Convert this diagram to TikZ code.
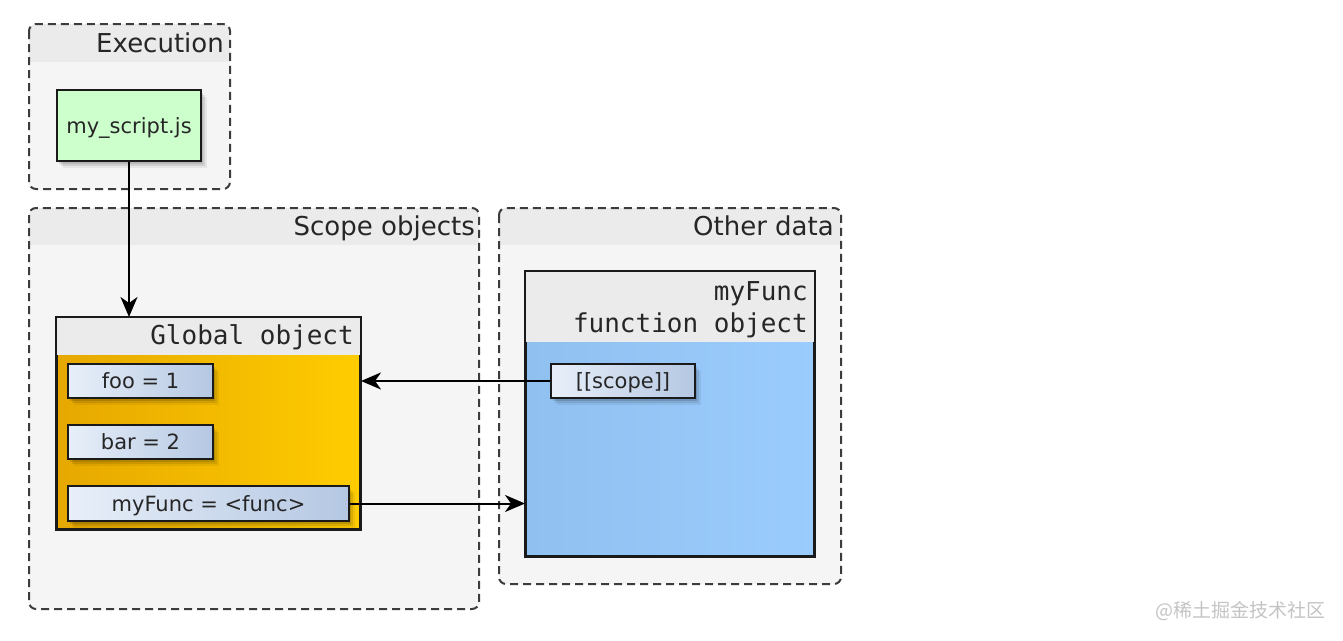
\documentclass[tikz,border=0pt]{standalone}
\usepackage{fontspec}
\setmainfont{DejaVu Sans}
\newfontfamily\monof{DejaVu Sans Mono}
\newfontfamily\cjk{Noto Sans CJK SC}
\usetikzlibrary{shadows,arrows.meta}
\definecolor{contbody}{HTML}{F5F5F5}
\definecolor{conthead}{HTML}{EBEBEB}
\definecolor{bordc}{HTML}{1A1A1A}
\definecolor{greenbox}{HTML}{CCFFCC}
\definecolor{orgL}{HTML}{E6A800}
\definecolor{orgR}{HTML}{FFCC00}
\definecolor{bluL}{HTML}{90C0F0}
\definecolor{bluM}{HTML}{80B4E7}
\definecolor{bluR}{HTML}{9ACCFD}
\definecolor{itemL}{HTML}{E8EFF9}
\definecolor{itemR}{HTML}{B4C7E2}
\definecolor{wmark}{HTML}{C4C4C4}
\tikzset{
  contborder/.style={draw=bordc!85, line width=2pt, dash pattern=on 8pt off 5pt, rounded corners=7pt},
  ctitle/.style={anchor=base east, inner sep=0pt, font=\fontsize{26}{30}\selectfont, text=black!85},
  mtitle/.style={anchor=base east, inner sep=0pt, font=\monof\fontsize{26}{30}\selectfont, text=black!85},
  shad/.style={
    drop shadow={shadow xshift=2pt, shadow yshift=-3pt, opacity=0.12, fill=black},
    drop shadow={shadow xshift=4pt, shadow yshift=-5pt, opacity=0.09, fill=black},
    drop shadow={shadow xshift=6pt, shadow yshift=-7pt, opacity=0.06, fill=black}},
  itembox/.style={draw=bordc, line width=2pt, left color=itemL, right color=itemR, shad,
    inner sep=0pt, text height=15pt, text depth=0pt, font=\fontsize{21}{25}\selectfont, text=black!85},
  bigbox/.style={draw=bordc, line width=2pt, inner sep=0pt},
  conn/.style={line width=2pt, -{Stealth[length=20pt,width=17pt,inset=6pt]}},
}
\begin{document}
\begin{tikzpicture}[x=1pt,y=-1pt]
\useasboundingbox (0,0) rectangle (1343,640);
\fill[white] (0,0) rectangle (1343,640);

% ---- Execution container
\fill[contbody, rounded corners=7pt] (29,24) rectangle (230,189);
\begin{scope}
  \clip[rounded corners=7pt] (29,24) rectangle (230,189);
  \fill[conthead] (29,24) rectangle (230,62);
\end{scope}
\draw[contborder] (29,24) rectangle (230,189);
\node[ctitle] (exect) at (224,52) {Execution};

% ---- Scope objects container
\fill[contbody, rounded corners=7pt] (29,208) rectangle (479,609);
\begin{scope}
  \clip[rounded corners=7pt] (29,208) rectangle (479,609);
  \fill[conthead] (29,208) rectangle (479,245);
\end{scope}
\draw[contborder] (29,208) rectangle (479,609);
\node[ctitle] (scopet) at (475,235) {Scope objects};

% ---- Other data container
\fill[contbody, rounded corners=7pt] (499,208) rectangle (841,584);
\begin{scope}
  \clip[rounded corners=7pt] (499,208) rectangle (841,584);
  \fill[conthead] (499,208) rectangle (841,245);
\end{scope}
\draw[contborder] (499,208) rectangle (841,584);
\node[ctitle] (othert) at (834,235) {Other data};

% ---- my_script.js
\node[draw=bordc, line width=2pt, fill=greenbox, shad, minimum width=144pt, minimum height=71pt,
  inner sep=0pt, text height=15pt, text depth=0pt, font=\fontsize{21}{25}\selectfont, text=black!85]
  (script) at (129,125.5) {my\_script.js};

% ---- Global object
\node[bigbox, left color=orgL, right color=orgR, minimum width=303pt, minimum height=211pt]
  (glob) at (208.5,423.5) {};
\fill[conthead] (57,318) rectangle (360,355);
\draw[draw=bordc, line width=2pt] (glob.north west) rectangle (glob.south east);
\node[mtitle] (globt) at (354,344) {Global object};

\node[itembox, minimum width=145pt, minimum height=34pt] (foo) at (140.5,381) {foo = 1};
\node[itembox, minimum width=145pt, minimum height=34pt] (bar) at (140.5,442) {bar = 2};
\node[itembox, minimum width=281pt, minimum height=35pt] (myf) at (208.5,503.5) {myFunc = <func>};

% ---- function object
\node[bigbox, left color=bluL, middle color=bluM, right color=bluR, minimum width=288pt, minimum height=284pt]
  (fobj) at (670,414) {};
\fill[conthead] (526,272) rectangle (814,342);
\draw[draw=bordc, line width=2pt] (fobj.north west) rectangle (fobj.south east);
\node[mtitle] (fobjt1) at (808,300) {myFunc};
\node[mtitle] (fobjt2) at (808,332) {function object};

\node[itembox, minimum width=144pt, minimum height=34pt] (scp) at (623,381) {[[scope]]};

% ---- connectors
\draw[conn] (script.south) -- (script.south |- glob.north);
\draw[conn] (scp.west) -- (scp.west -| glob.east);
\draw[conn] (myf.east) -- (myf.east -| fobj.west);

% ---- watermark
\node[anchor=base east, inner sep=0pt, font=\cjk\fontsize{19}{22}\selectfont, text=wmark] (wm) at (1326,617) {@稀土掘金技术社区};
\end{tikzpicture}
\end{document}
